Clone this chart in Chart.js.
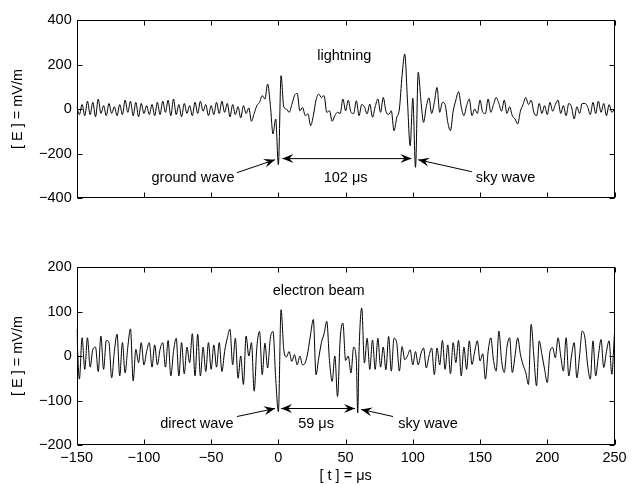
<!DOCTYPE html>
<html>
<head>
<meta charset="utf-8">
<script src="https://cdn.jsdelivr.net/npm/chart.js@4.4.1/dist/chart.umd.min.js"></script>
<style>
  html, body { margin: 0; padding: 0; background: #fff; }
  #wrap { position: relative; width: 633px; height: 485px; }
  #wrap canvas { position: absolute; left: 0; top: 0; }
</style>
</head>
<body>
<div id="wrap">
  <canvas id="topChart" width="633" height="485"></canvas>
  <canvas id="bottomChart" width="633" height="485"></canvas>
</div>
<script>
// time axis (microseconds)
const T_MIN = -150, T_MAX = 250, T_STEP = 2;
const xTicks = [-150, -100, -50, 0, 50, 100, 150, 200, 250];
const yTicksTop = [-400, -200, 0, 200, 400];
const yTicksBottom = [-200, -100, 0, 100, 200];

// lightning, E in mV/m, one value every 2 us from -150 to 250
const lightning = [
  10, -25, 20, -30, 35, -25, 30, -35, 45, -20,
  15, -30, 25, -20, 10, -30, 20, -25, 40, -15,
  35, -30, 30, -35, 25, -20, 15, -25, 20, -30,
  30, -25, 35, -15, 40, -30, 45, -25, 20, -35,
  25, -20, 15, -30, 30, -20, 35, -10, 20, -30,
  15, -25, 30, -20, 35, -15, 25, -35, 20, -25,
  10, -40, 15, -20, 5, -55, -20, 15, 30, 60,
  45, 112, 20, -112, -45, -250, 150, 10, 0, -15,
  20, 60, 70, -8, 7, -30, -22, -75, -30, 40,
  67, 52, 60, -15, -8, -55, -30, -15, -20, 45,
  -8, 40, -15, -20, 37, -30, 20, 10, -22, 22,
  -37, 10, 45, -15, 52, -10, -25, -8, -98, -40,
  0, 150, 247, 40, -165, 48, -262, 165, 40, -60,
  10, 50, -20, 30, 97, -15, 30, 20, -60, -97,
  -10, 40, 78, 10, -30, 15, 45, -30, 0, -20,
  40, -15, -20, 45, -15, 20, 52, 25, -10, 40,
  -20, 10, -30, -45, -67, -10, 20, 52, 20, 40,
  -15, -30, 25, -20, 15, -25, 30, -10, 20, 40,
  -20, 15, -30, 25, 10, -45, 10, -20, 25, 25,
  10, -25, 30, -20, 35, -15, 25, -30, 20, -15,
  0
];

// electron beam, same 2 us grid with the sky wave sample at 59 us added
const beamExtraT = 59;
const beam = [
  60, -52, 41, -30, 41, -25, 15, 20, -35, 45,
  -30, 35, 30, -49, 10, 49, -45, 30, -38, 20,
  61, -56, 15, -15, 30, -20, 10, 30, -25, 25,
  -20, 15, 30, -25, 35, -45, 10, 40, -45, 30,
  -40, 20, -15, 50, -45, 49, -45, 20, -35, 30,
  -30, 25, -25, 30, -35, 10, 40, 60, -20, 40,
  -50, 0, -64, 45, 0, 30, -79, 20, 55, -42,
  29, -27, 40, 55, -50, -125, 104, 15, -2, 10,
  -12, 3, -20, 0, -20, -15, 10, 50, 82, -42,
  -5, 30, 50, 78, -10, -57, 0, -91, 40, 74,
  -10, 0, -38, 20, -10,
  -128,
  10, 108, -16, 40, -30, 36, -30, 40, -25, 20,
  -31, 44, -34, 40, 30, -34, 21, -8, 0, 14,
  -20, 10, -20, 5, 18, -27, 0, 18, -42, 18,
  -20, 35, -30, 25, -40, 30, -15, 35, -45, 20,
  -30, 34, -19, 10, 34, -11, 5, -52, 10, 41,
  -10, -34, 56, -10, -37, 20, 41, -37, 0, 41,
  4, -20, -37, -64, 71, 0, -67, 34, 4, -30,
  -60, 10, 19, -4, 41, 0, -34, 41, -45, 0,
  30, -49, 0, 56, 41, -20, -52, 34, -45, 0,
  37, -26, 10, 34, -41, 52
];

const tGrid = [];
for (let t = T_MIN; t <= T_MAX; t += T_STEP) tGrid.push(t);
const tBeam = tGrid.slice();
tBeam.splice(tBeam.indexOf(60), 0, beamExtraT);

const FONT = '"Liberation Sans", Arial, Helvetica, sans-serif';
const FS = 14.5;
Chart.defaults.font.family = FONT;
Chart.defaults.font.size = FS;
Chart.defaults.color = '#000';

const minus = v => String(v).replace('-', '\u2212');

// box with inward tick marks, matlab style
const boxTicks = {
  id: 'boxTicks',
  afterDatasetsDraw(chart) {
    const { ctx, chartArea: a, scales: { x, y } } = chart;
    const L = Math.round(a.left) + 0.5, R = Math.round(a.right) - 0.5;
    const T = Math.round(a.top) + 0.5, B = Math.round(a.bottom) - 0.5;
    ctx.save();
    ctx.strokeStyle = '#000';
    ctx.lineWidth = 1;
    ctx.strokeRect(L, T, R - L, B - T);
    ctx.beginPath();
    x.ticks.forEach(tk => {
      const p = Math.round(x.getPixelForValue(tk.value)) + 0.5;
      ctx.moveTo(p, B); ctx.lineTo(p, B - 5);
      ctx.moveTo(p, T); ctx.lineTo(p, T + 5);
    });
    y.ticks.forEach(tk => {
      const p = Math.round(y.getPixelForValue(tk.value)) + 0.5;
      ctx.moveTo(L, p); ctx.lineTo(L + 5, p);
      ctx.moveTo(R, p); ctx.lineTo(R - 5, p);
    });
    ctx.stroke();
    ctx.restore();
  }
};

function head(ctx, x1, y1, x2, y2) {
  const ang = Math.atan2(y2 - y1, x2 - x1);
  const len = 11, w = 4.5, notch = 7;
  ctx.save();
  ctx.translate(x2, y2);
  ctx.rotate(ang);
  ctx.beginPath();
  ctx.moveTo(0, 0);
  ctx.lineTo(-len, -w);
  ctx.lineTo(-notch, 0);
  ctx.lineTo(-len, w);
  ctx.closePath();
  ctx.fill();
  ctx.restore();
}

// text labels and arrows placed in data coordinates
const notes = {
  id: 'notes',
  afterDraw(chart, args, opts) {
    const { ctx, scales: { x, y } } = chart;
    ctx.save();
    ctx.fillStyle = '#000';
    ctx.strokeStyle = '#000';
    ctx.lineWidth = 1;
    ctx.font = FS + 'px ' + FONT;
    ctx.textAlign = 'center';
    ctx.textBaseline = 'middle';
    (opts.labels || []).forEach(l => {
      ctx.fillText(l.text, x.getPixelForValue(l.t), y.getPixelForValue(l.v));
    });
    (opts.arrows || []).forEach(ar => {
      const x1 = x.getPixelForValue(ar.from[0]), y1 = y.getPixelForValue(ar.from[1]);
      const x2 = x.getPixelForValue(ar.to[0]), y2 = y.getPixelForValue(ar.to[1]);
      ctx.beginPath();
      ctx.moveTo(x1, y1);
      ctx.lineTo(x2, y2);
      ctx.stroke();
      head(ctx, x1, y1, x2, y2);
      if (ar.both) head(ctx, x2, y2, x1, y1);
    });
    ctx.restore();
  }
};

function makeChart(id, t, e, yMin, yMax, yStep, pad, xHeight, showX, notesCfg) {
  return new Chart(document.getElementById(id), {
    type: 'line',
    data: {
      datasets: [{
        data: t.map((tt, i) => ({ x: tt, y: e[i] })),
        borderColor: '#000',
        borderWidth: 1,
        pointRadius: 0,
        cubicInterpolationMode: 'monotone',
        fill: false
      }]
    },
    options: {
      responsive: false,
      animation: false,
      layout: { padding: pad },
      plugins: { legend: { display: false }, tooltip: { enabled: false }, notes: notesCfg },
      scales: {
        x: {
          type: 'linear',
          min: T_MIN, max: T_MAX,
          afterBuildTicks: s => { s.ticks = xTicks.map(v => ({ value: v })); },
          afterFit: s => { s.height = xHeight; },
          grid: { display: false, drawTicks: false },
          border: { display: false },
          ticks: { display: showX, padding: 4, maxRotation: 0, autoSkip: false, callback: minus },
          title: { display: showX, text: '[ t ] = \u03bcs', padding: { top: 0, bottom: 0 } }
        },
        y: {
          min: yMin, max: yMax,
          ticks: { stepSize: yStep, padding: 5, callback: minus },
          afterFit: s => { s.width = 76.7; },
          grid: { display: false, drawTicks: false },
          border: { display: false },
          title: { display: true, text: '[ E ] = mV/m', padding: { top: 9, bottom: 0 } }
        }
      }
    },
    plugins: [boxTicks, notes]
  });
}

makeChart('topChart', tGrid, lightning, -400, 400, 200,
  { top: 20, right: 18.5, bottom: 287, left: 0 }, 0, false, {
    labels: [
      { text: 'lightning', t: 49, v: 240 },
      { text: 'ground wave', t: -63.5, v: -309 },
      { text: '102 \u03bcs', t: 50, v: -309 },
      { text: 'sky wave', t: 169, v: -309 }
    ],
    arrows: [
      { from: [3, -223], to: [99, -223], both: true },
      { from: [-30.8, -286], to: [-2.5, -228] },
      { from: [143.9, -282], to: [104, -228] }
    ]
  });

makeChart('bottomChart', tBeam, beam, -200, 200, 100,
  { top: 267, right: 18.5, bottom: 0, left: 0 }, 40, true, {
    labels: [
      { text: 'electron beam', t: 30, v: 145 },
      { text: 'direct wave', t: -60.6, v: -152 },
      { text: '59 \u03bcs', t: 28, v: -152 },
      { text: 'sky wave', t: 111.3, v: -152 }
    ],
    arrows: [
      { from: [2, -118], to: [57, -118], both: true },
      { from: [-30.8, -136], to: [-2.5, -118] },
      { from: [85.3, -136], to: [61.5, -120] }
    ]
  });
</script>
</body>
</html>
